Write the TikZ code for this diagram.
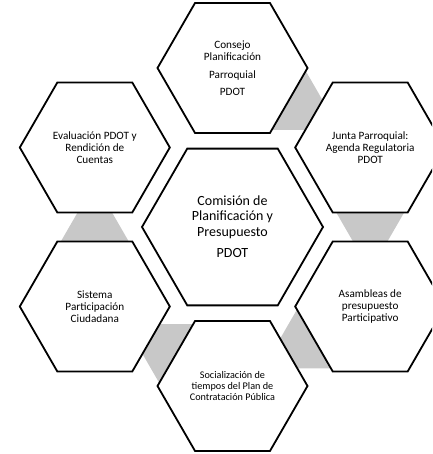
\documentclass[tikz,border=0pt]{standalone}
\usepackage{fontspec}
\setmainfont{Carlito}
\usetikzlibrary{shapes.geometric,calc,backgrounds}
\definecolor{linkgray}{RGB}{200,200,200}
\begin{document}
\begin{tikzpicture}[x=1pt,y=1pt,
  hexbox/.style={regular polygon, regular polygon sides=6, minimum size=150pt,
    inner sep=0pt, outer sep=0pt, draw=black, line width=1.8pt, fill=white,
    align=center, font=\fontsize{11.2}{12.3}\selectfont},
  bighex/.style={hexbox, minimum size=181pt, font=\fontsize{14}{15.2}\selectfont},
  link/.style={fill=linkgray, draw=none}]
\useasboundingbox (0,0) rectangle (432,454);
\clip (0,0) rectangle (432,454);
\coordinate (C) at (232.5,227);
\node[bighex] (mid) at (C) {Comisión de\\Planificación y\\Presupuesto\\[6.5pt]PDOT};
\node[hexbox] (cons) at ($(C)+(90:159)$) {Consejo\\Planificación\\[6pt]Parroquial\\[4.4pt]PDOT};
\node[hexbox] (junta) at ($(C)+(30:159)$) {Junta Parroquial:\\Agenda Regulatoria\\PDOT};
\node[hexbox] (asam) at ($(C)+(-30:159)$) {Asambleas de\\presupuesto\\Participativo};
\node[hexbox, font=\fontsize{10.2}{11.4}\selectfont] (soc) at ($(C)+(-90:159)$) {Socialización de\\tiempos del Plan de\\Contratación Pública};
\node[hexbox] (sis) at ($(C)+(-150:159)$) {Sistema\\Participación\\Ciudadana};
\node[hexbox] (eval) at ($(C)+(150:159)$) {Evaluación PDOT y\\Rendición de\\Cuentas};
\begin{scope}[on background layer]
  \foreach \h/\t in {cons/-30, junta/-90, asam/-150, soc/150, sis/90} {
    \fill[link] ($(\h.center)+(\t:64.95)+(\t+90:34)$)
      -- ($(\h.center)+(\t:64.95)+(\t-90:34)$)
      -- ($(\h.center)+(\t:123.8)$) -- cycle;
  }
\end{scope}
\end{tikzpicture}
\end{document}
